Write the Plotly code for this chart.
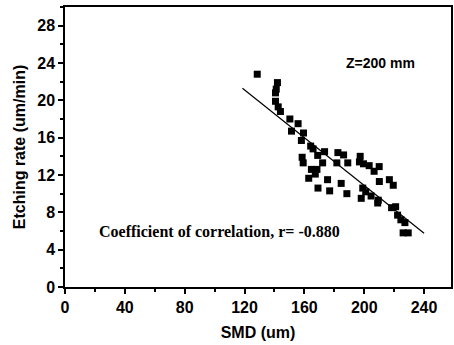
import plotly.graph_objects as go

# Measured data (SMD in um, etching rate in um/min)
smd = [128.5, 142.0, 141.2, 140.7, 140.7, 142.5, 144.0, 150.3, 155.8, 151.4,
       159.4, 158.0, 164.2, 165.8, 173.5, 168.9, 158.5, 182.4, 186.2, 189.0,
       181.7, 172.2, 159.2, 164.7, 168.4, 167.3, 162.9, 175.5, 169.1, 176.9,
       184.6, 188.4, 197.3, 196.8, 199.5, 203.3, 206.6, 210.0, 210.1, 199.0,
       201.0, 198.0, 204.6, 209.4, 209.0, 216.8, 219.4, 218.3, 221.0, 222.3,
       224.5, 227.2, 226.0, 229.4]
rate = [22.8, 21.9, 21.2, 20.8, 19.9, 19.3, 18.8, 18.0, 17.5, 16.7,
        16.5, 15.7, 15.1, 14.8, 14.5, 14.1, 13.9, 14.4, 14.15, 13.3,
        13.3, 13.3, 13.3, 12.6, 12.6, 12.1, 11.65, 11.5, 10.6, 10.3,
        11.1, 10.0, 14.0, 13.4, 13.2, 13.0, 12.4, 12.9, 11.3, 10.6,
        10.2, 9.5, 9.75, 9.3, 9.0, 11.5, 10.9, 8.5, 8.6, 7.7,
        7.2, 6.9, 5.8, 5.8]

# Linear fit line endpoints
fit_x = [118.6, 240.0]
fit_y = [21.3, 5.75]

x_ticks = [0, 40, 80, 120, 160, 200, 240]
y_ticks = [0, 4, 8, 12, 16, 20, 24, 28]

fig = go.Figure()
fig.add_trace(go.Scatter(x=fit_x, y=fit_y, mode="lines",
                         line=dict(color="black", width=1.2), showlegend=False))
fig.add_trace(go.Scatter(x=smd, y=rate, mode="markers",
                         marker=dict(symbol="square", size=7, color="black"),
                         showlegend=False))

fig.add_annotation(x=211, y=24.0, text="<b>Z=200 mm</b>", showarrow=False,
                   font=dict(family="Liberation Sans, Arial", size=14, color="black"))
fig.add_annotation(x=21.3, y=6.0, xanchor="left",
                   text="<b>Coefficient of correlation, r= -0.880</b>", showarrow=False,
                   font=dict(family="Liberation Serif, Times New Roman", size=16, color="black"))

axis_font = dict(family="Liberation Sans, Arial", size=16, color="black")
fig.update_xaxes(range=[0, 258], tickvals=x_ticks, ticktext=[f"<b>{v}</b>" for v in x_ticks],
                 ticks="outside", ticklen=5, tickwidth=1.5, tickcolor="black",
                 minor=dict(dtick=20, ticks="outside", ticklen=3, tickcolor="black"),
                 showline=True, linecolor="black", linewidth=1.5, mirror=True,
                 showgrid=False, zeroline=False, tickfont=axis_font,
                 title=dict(text="<b>SMD (um)</b>", font=axis_font, standoff=12))
fig.update_yaxes(range=[0, 30], tickvals=y_ticks, ticktext=[f"<b>{v}</b>" for v in y_ticks],
                 ticks="outside", ticklen=5, tickwidth=1.5, tickcolor="black",
                 minor=dict(dtick=2, ticks="outside", ticklen=3, tickcolor="black"),
                 showline=True, linecolor="black", linewidth=1.5, mirror=True,
                 showgrid=False, zeroline=False, tickfont=axis_font,
                 title=dict(text="<b>Etching rate (um/min)</b>", font=axis_font, standoff=8))

fig.update_layout(width=454, height=345, margin=dict(l=65, r=1, t=7, b=58),
                  plot_bgcolor="white", paper_bgcolor="white")
fig.write_html("out.html")
